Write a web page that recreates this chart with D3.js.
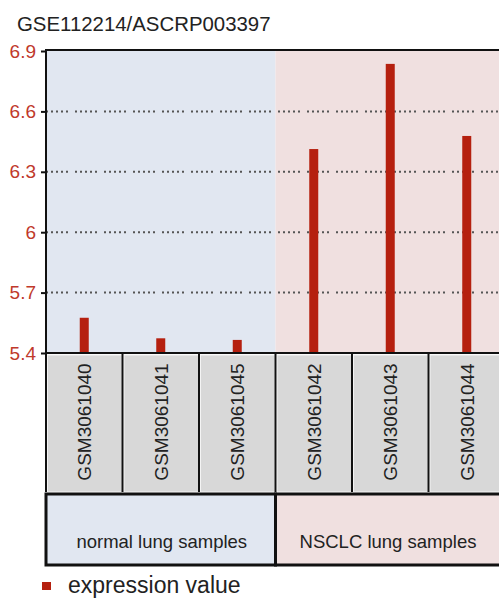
<!DOCTYPE html>
<html>
<head>
<meta charset="utf-8">
<script src="https://cdn.jsdelivr.net/npm/d3@7"></script>
<style>
  body { margin: 0; background: #fff; }
  svg { display: block; font-family: "Liberation Sans", Arial, sans-serif; }
</style>
</head>
<body>
<svg id="chart" width="499" height="599"></svg>
<script>
var title = "GSE112214/ASCRP003397";
var samples = ["GSM3061040", "GSM3061041", "GSM3061045", "GSM3061042", "GSM3061043", "GSM3061044"];
var values = [5.575, 5.473, 5.465, 6.413, 6.836, 6.478];
var sampleGroup = [0, 0, 0, 1, 1, 1];
var groups = ["normal lung samples", "NSCLC lung samples"];
var groupColors = ["#e1e7f1", "#f0e0e0"];
var yTicks = [5.4, 5.7, 6, 6.3, 6.6, 6.9];
var legendLabel = "expression value";

var svg = d3.select("#chart");
var padL = 46, padR = 505, plotTop = 51, plotBottom = 353;

var xScale = d3.scaleBand().domain(samples).range([padL, padR]).padding(0);
var yScale = d3.scaleLinear().domain([5.4, 6.9]).range([plotBottom, plotTop]);

function groupExtent(g) {
  var members = samples.filter(function (s, i) { return sampleGroup[i] === g; });
  return [xScale(members[0]), xScale(members[members.length - 1]) + xScale.bandwidth()];
}

// backgrounds per group
for (var g = 0; g < groups.length; g++) {
  var ext = groupExtent(g);
  svg.append("rect")
    .attr("x", ext[0]).attr("y", plotTop)
    .attr("width", ext[1] - ext[0]).attr("height", plotBottom - plotTop)
    .style("fill", groupColors[g]);
}

// grid lines
svg.selectAll(".grid")
  .data(yTicks.slice(1, yTicks.length - 1))
  .enter()
  .append("line")
  .attr("class", "grid")
  .attr("x1", padL).attr("x2", padR)
  .attr("y1", function (d) { return yScale(d); })
  .attr("y2", function (d) { return yScale(d); })
  .style("stroke", "#555")
  .style("stroke-width", 2)
  .style("stroke-dasharray", "2,3,2,3,2,3,2,3,2,7");

// bars
svg.selectAll(".bar")
  .data(values)
  .enter()
  .append("rect")
  .attr("class", "bar")
  .attr("x", function (d, i) { return xScale(samples[i]) + xScale.bandwidth() / 2 - 4.5; })
  .attr("y", function (d) { return yScale(d); })
  .attr("width", 9)
  .attr("height", function (d) { return plotBottom - yScale(d); })
  .style("fill", "#b5200f");

// y axis
var yAxis = d3.axisLeft(yScale)
  .tickValues(yTicks)
  .tickSize(5)
  .tickPadding(5)
  .tickFormat(function (d) { return d3.format("")(d); });

var axisG = svg.append("g")
  .attr("transform", "translate(" + padL + ",0)")
  .call(yAxis);
axisG.select(".domain").remove();
axisG.selectAll(".tick line").style("stroke", "#111").style("stroke-width", 2);
axisG.selectAll(".tick text")
  .style("font-size", "19px")
  .style("fill", "#c0392b")
  .style("font-family", "Liberation Sans, Arial, sans-serif");

// plot frame
svg.append("line").attr("x1", padL).attr("x2", padR).attr("y1", plotTop - 1).attr("y2", plotTop - 1)
  .style("stroke", "#111").style("stroke-width", 2);
svg.append("line").attr("x1", padL).attr("x2", padL).attr("y1", plotTop - 2).attr("y2", plotBottom + 1)
  .style("stroke", "#111").style("stroke-width", 2);
svg.append("line").attr("x1", padL).attr("x2", padR).attr("y1", plotBottom).attr("y2", plotBottom)
  .style("stroke", "#111").style("stroke-width", 2);

// sample label boxes
var labelTop = 354, labelBottom = 492;
var boxes = svg.selectAll(".sbox")
  .data(samples)
  .enter()
  .append("g")
  .attr("class", "sbox");
boxes.append("rect")
  .attr("x", function (d) { return xScale(d) + 1.5; })
  .attr("y", labelTop + 1)
  .attr("width", xScale.bandwidth() - 2)
  .attr("height", labelBottom - labelTop - 1)
  .style("fill", "#d8d8d8")
  .style("stroke", "#f4f4f4")
  .style("stroke-width", 1);
boxes.append("line")
  .attr("x1", function (d) { return xScale(d); })
  .attr("x2", function (d) { return xScale(d); })
  .attr("y1", labelTop)
  .attr("y2", labelBottom)
  .style("stroke", "#111")
  .style("stroke-width", 2);
boxes.append("text")
  .attr("transform", function (d) {
    return "translate(" + (xScale(d) + xScale.bandwidth() / 2 + 7) + "," + (labelTop + 68) + ")rotate(-90)";
  })
  .attr("text-anchor", "middle")
  .style("font-size", "19px")
  .style("fill", "#222")
  .text(function (d) { return d; });

// group boxes
var groupTop = 494, groupBottom = 565;
for (var g = 0; g < groups.length; g++) {
  var ext = groupExtent(g);
  svg.append("rect")
    .attr("x", ext[0]).attr("y", groupTop)
    .attr("width", ext[1] - ext[0]).attr("height", groupBottom - groupTop)
    .style("fill", groupColors[g])
    .style("stroke", "#111")
    .style("stroke-width", 3);
  svg.append("text")
    .attr("x", g === 0 ? (ext[0] + ext[1]) / 2 + 1 : 388)
    .attr("y", 548)
    .attr("text-anchor", "middle")
    .style("font-size", "18.5px")
    .style("fill", "#222")
    .text(groups[g]);
}

// title
svg.append("text")
  .attr("x", 17).attr("y", 31)
  .style("font-size", "20.4px")
  .style("fill", "#222")
  .text(title);

// legend
svg.append("rect")
  .attr("x", 42).attr("y", 582)
  .attr("width", 9).attr("height", 8)
  .style("fill", "#b5200f");
svg.append("text")
  .attr("x", 68).attr("y", 593)
  .style("font-size", "23px")
  .style("fill", "#222")
  .text(legendLabel);
</script>
</body>
</html>
